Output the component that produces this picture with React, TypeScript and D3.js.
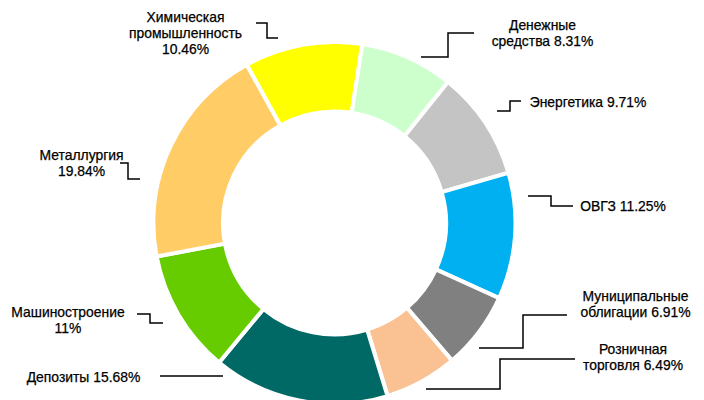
import React from "react";
import * as d3 from "d3";

const categories = [
  "Денежные средства",
  "Энергетика",
  "ОВГЗ",
  "Муниципальные облигации",
  "Розничная торговля",
  "Депозиты",
  "Машиностроение",
  "Металлургия",
  "Химическая промышленность",
];
const values = [8.31, 9.71, 11.25, 6.91, 6.49, 15.68, 11, 19.84, 10.46];
const valueLabels = ["8.31%", "9.71%", "11.25%", "6.91%", "6.49%", "15.68%", "11%", "19.84%", "10.46%"];
const colors = ["#CCFFCC", "#C4C4C4", "#00B0F0", "#808080", "#FAC192", "#006966", "#66CC00", "#FFCC66", "#FFFF00"];

// label text lines (content)
const labelLines = [
  ["Денежные", "средства 8.31%"],
  ["Энергетика 9.71%"],
  ["ОВГЗ 11.25%"],
  ["Муниципальные", "облигации 6.91%"],
  ["Розничная", "торговля 6.49%"],
  ["Депозиты 15.68%"],
  ["Машиностроение", "11%"],
  ["Металлургия", "19.84%"],
  ["Химическая", "промышленность", "10.46%"],
];

// layout of labels (text center x, first baseline y) and leader polylines
const labelLayout = [
  { x: 542.5, y: 29.5, leader: [[474, 33], [448, 33], [448, 57], [421, 57]] },
  { x: 588, y: 106.5, leader: [[521, 101], [510, 101], [510, 111], [497, 111]] },
  { x: 623, y: 210.5, leader: [[573, 206], [551, 206], [551, 196], [528, 196]] },
  { x: 635.5, y: 300.5, leader: [[567, 315], [523, 315], [523, 348], [479, 348]] },
  { x: 633, y: 353.5, leader: [[575, 359], [500, 359], [500, 389], [426, 389]] },
  { x: 83.5, y: 381.5, leader: [[160, 376], [223, 376]] },
  { x: 68, y: 316.5, leader: [[137, 314], [150, 314], [150, 323], [163, 323]] },
  { x: 81.5, y: 159.5, leader: [[120, 163], [128, 163], [128, 179], [140, 179]] },
  { x: 185.5, y: 22, leader: [[256, 23], [267, 23], [267, 38], [278, 38]] },
];

const W = 704;
const H = 400;
const cx = 334.5;
const cy = 223;
const outerR = 181;
const innerR = 111.5;
const startDeg = 8.8;
const lineH = 16;

export default function App() {
  const pie = d3
    .pie<number>()
    .sort(null)
    .value((d) => d)
    .startAngle((startDeg * Math.PI) / 180)
    .endAngle((startDeg * Math.PI) / 180 + 2 * Math.PI);
  const arcs = pie(values);
  const arc = d3.arc<d3.PieArcDatum<number>>().innerRadius(innerR).outerRadius(outerR);
  const line = d3.line();

  return (
    <svg
      width={W}
      height={H}
      style={{ position: "absolute", left: 0, top: 0, background: "#fff" }}
      fontFamily="'Liberation Sans', Arial, sans-serif"
      fontSize={13.9}
    >
      <g transform={`translate(${cx},${cy})`}>
        {arcs.map((a, i) => (
          <path key={categories[i]} d={arc(a) || ""} fill={colors[i]} stroke="#fff" strokeWidth={4} strokeLinejoin="miter" />
        ))}
      </g>
      {labelLayout.map((l, i) => (
        <g key={"lbl" + i}>
          <path d={line(l.leader as [number, number][]) || ""} fill="none" stroke="#000" strokeWidth={1.5} />
          <text x={l.x} y={l.y} textAnchor="middle" fill="#000" stroke="#000" strokeWidth={0.25}>
            {labelLines[i].map((t, j) => (
              <tspan key={j} x={l.x} y={l.y + j * lineH}>
                {t}
              </tspan>
            ))}
          </text>
        </g>
      ))}
    </svg>
  );
}
